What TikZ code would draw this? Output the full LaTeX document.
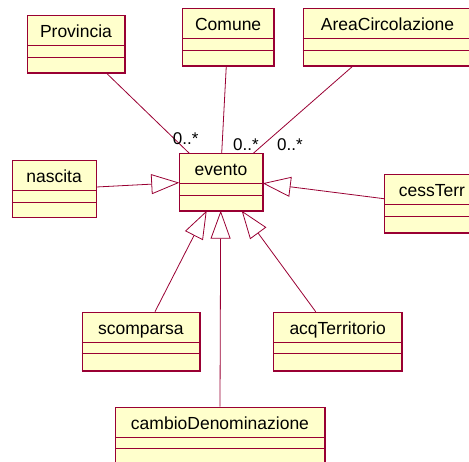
\documentclass[tikz,border=0pt]{standalone}
\usepackage{fontspec}
\setmainfont{Liberation Sans}
\usetikzlibrary{arrows.meta}
\definecolor{umlborder}{RGB}{153,0,51}
\definecolor{umlfill}{RGB}{255,255,204}

\tikzset{
  clsbox/.style={draw=umlborder, fill=umlfill, line width=0.7pt, rectangle,
    inner sep=0pt, anchor=north west},
  clsname/.style={anchor=base, font=\fontsize{17.5}{20}\selectfont, text=black, inner sep=0pt},
  divider/.style={draw=umlborder, line width=0.7pt},
  shadowedge/.style={draw=umlborder, line width=1.6pt},
  assoc/.style={draw=umlborder, line width=0.8pt},
  generalize/.style={draw=umlborder, line width=0.8pt,
    -{Triangle[open, length=28pt, width=20pt]}},
  mult/.style={anchor=base west, font=\fontsize{17}{20}\selectfont, inner sep=0pt},
}

% class box: name, left, top, width, height, label
\newcommand\umlclass[6]{%
  \node[clsbox, minimum width=#4pt, minimum height=#5pt] (#1) at (#2,#3) {};
  \draw[shadowedge] (#1.south west) -- (#1.south east) -- (#1.north east);
  \draw[divider] ([yshift=-30.5pt]#1.north west) -- ([yshift=-30.5pt]#1.north east);
  \draw[divider] ([yshift=-42pt]#1.north west) -- ([yshift=-42pt]#1.north east);
  \node[clsname] (#1-name) at ([yshift=-22.5pt]#1.north) {#6};
}

\begin{document}
\begin{tikzpicture}[x=1pt, y=-1pt]
  \useasboundingbox (0,0) rectangle (469,461);
  \clip (0,0) rectangle (469,461);

  \umlclass{prov}{27.3}{15.3}{96.7}{56.7}{Provincia}
  \umlclass{comune}{182.3}{8.3}{91}{56.7}{Comune}
  \umlclass{area}{302.7}{8.3}{169}{56.7}{AreaCircolazione}
  \umlclass{nascita}{11.7}{160}{84}{56.7}{nascita}
  \umlclass{evento}{179.3}{153.3}{82.7}{56.7}{evento}
  \umlclass{cess}{384}{174}{95}{58.3}{cessTerr}
  \umlclass{scomp}{81.7}{311.7}{117.6}{58.3}{scomparsa}
  \umlclass{acq}{273.3}{311.7}{128}{58.3}{acqTerritorio}
  \umlclass{cambio}{115.3}{406.7}{208.7}{70}{cambioDenominazione}

  % associations
  \draw[assoc] ([xshift=78.7pt]prov.south west) -- ([xshift=10pt]evento.north west);
  \draw[assoc] ([xshift=44pt]comune.south west) -- ([xshift=42.4pt]evento.north west);
  \draw[assoc] ([xshift=50.6pt]area.south west) -- ([xshift=74pt]evento.north west);

  % multiplicities
  \node[mult] (m1) at (172.7,144) {0..*};
  \node[mult] (m2) at (233,150) {0..*};
  \node[mult] (m3) at (277,150) {0..*};

  % generalizations
  \draw[generalize] ([yshift=-27pt]nascita.north east) -- ([yshift=-29.4pt]evento.north west);
  \draw[generalize] ([yshift=-24.7pt]cess.north west) -- ([yshift=-30pt]evento.north east);
  \draw[generalize] ([xshift=73.3pt]scomp.north west) -- ([xshift=27.4pt]evento.south west);
  \draw[generalize] (cambio.north) -- ([xshift=41.4pt]evento.south west);
  \draw[generalize] ([xshift=42.4pt]acq.north west) -- ([xshift=62.4pt]evento.south west);
\end{tikzpicture}
\end{document}
